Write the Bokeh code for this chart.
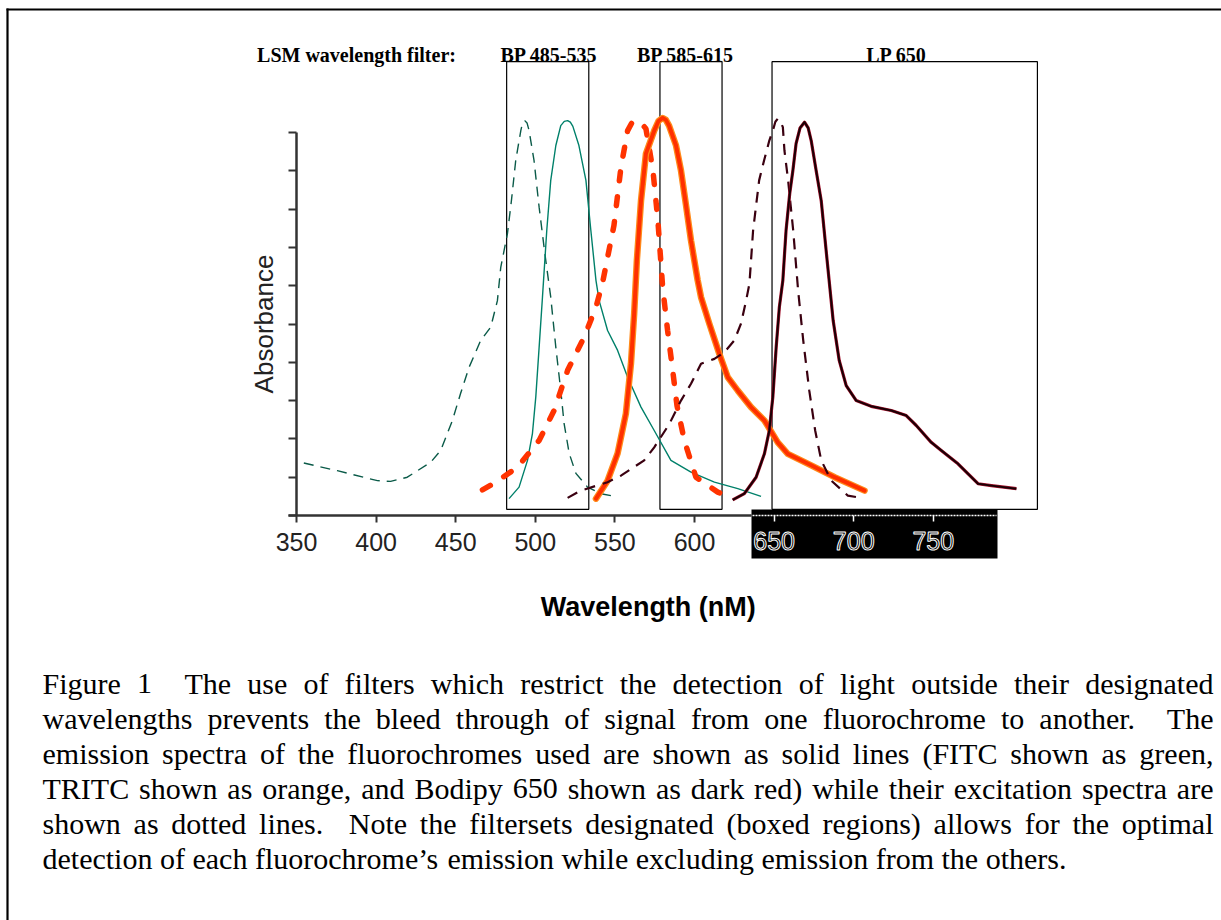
import numpy as np
from bokeh.plotting import figure
from bokeh.models import Range1d, LinearAxis, FixedTicker, ColumnDataSource
from bokeh.core.properties import value
from bokeh.embed import file_html
from bokeh.resources import INLINE

# ---------------- data ----------------
fitc_ex_nm = [354.6, 375.6, 400.8, 409.1, 419.6, 434.3, 440.6, 447.9, 453.1, 458.4, 465.7, 472.0,
              476.2, 478.3, 482.5, 485.0, 487.7, 490.9, 492.0, 493.4, 494.8, 496.1, 499.2, 502.4,
              506.0, 509.7, 512.9, 516.0, 518.1, 521.3, 525.5, 532.8, 541.2, 549.6]
fitc_ex_abs = [1.37, 1.17, 0.91, 0.89, 1.00, 1.39, 1.70, 2.48, 3.19, 3.87, 4.57, 4.92,
               5.61, 6.48, 7.36, 8.22, 9.27, 10.05, 10.25, 10.31, 10.25, 10.05, 9.27, 8.05,
               6.84, 5.70, 4.39, 3.26, 2.40, 1.62, 1.10, 0.74, 0.57, 0.50]

fitc_em_nm = [483.5, 489.8, 495.1, 498.2, 500.3, 502.4, 504.5, 507.2, 509.7, 512.9, 516.0, 518.2,
              520.3, 522.0, 523.6, 527.4, 531.8, 534.9, 538.1, 540.1, 545.4, 551.7, 558.0, 566.4,
              574.7, 585.2, 597.8, 612.5, 627.2, 641.8]
fitc_em_abs = [0.44, 0.74, 1.44, 2.14, 3.09, 4.39, 5.70, 7.44, 8.75, 9.66, 10.18, 10.29,
               10.31, 10.27, 10.16, 9.66, 8.75, 7.44, 6.14, 5.61, 4.83, 4.31, 3.61, 2.83,
               2.22, 1.44, 1.13, 0.87, 0.70, 0.50]

tritc_ex_nm = [466.8, 474.1, 488.8, 502.4, 511.8, 520.3, 530.7, 538.1, 542.3, 549.4, 553.8, 558.0,
               560.6, 563.2, 566.4, 569.5, 573.9, 577.0, 580.0, 583.1, 586.3, 589.0, 593.6, 600.9,
               614.6, 622.9]
tritc_ex_abs = [0.67, 0.84, 1.26, 1.96, 2.74, 3.79, 4.66, 5.44, 6.09, 7.57, 9.09, 10.05,
                10.25, 10.31, 10.25, 10.10, 9.01, 7.70, 5.96, 4.83, 3.79, 2.87, 1.96, 1.00,
                0.61, 0.48]

tritc_em_nm = [538.1, 545.4, 551.7, 556.9, 560.1, 562.1, 563.8, 566.4, 569.5, 574.7, 577.4, 580.0,
               582.0, 584.0, 588.4, 591.5, 594.7, 597.8, 602.0, 604.1, 609.3, 615.6, 620.9, 627.2,
               635.5, 643.9, 652.3, 658.6, 673.3, 688.0, 706.8]
tritc_em_abs = [0.44, 0.91, 1.62, 2.66, 3.97, 5.27, 6.66, 8.22, 9.45, 10.05, 10.30, 10.38,
                10.33, 10.18, 9.66, 9.01, 8.09, 7.18, 6.14, 5.70, 5.01, 4.22, 3.61, 3.26,
                2.83, 2.48, 1.91, 1.61, 1.31, 1.00, 0.65]

bodipy_ex_nm = [520.3, 528.6, 545.4, 553.8, 568.4, 574.7, 584.2, 591.5, 597.8, 604.1, 612.5, 618.7,
                625.0, 629.2, 632.4, 634.5, 636.8, 640.6, 643.7, 647.0, 649.2, 650.8, 652.3, 654.0,
                655.5, 656.5, 658.8, 662.0, 665.1, 668.3, 672.1, 675.8, 679.6, 685.9, 696.3, 704.7]
bodipy_ex_abs = [0.46, 0.65, 0.87, 1.04, 1.44, 1.78, 2.39, 3.00, 3.44, 3.96, 4.09, 4.26,
                 4.57, 5.01, 5.61, 6.05, 7.44, 8.75, 9.27, 9.79, 10.05, 10.28, 10.36, 10.28,
                 10.14, 9.53, 8.75, 7.44, 5.87, 4.57, 3.26, 2.22, 1.44, 0.91, 0.52, 0.46]

bodipy_em_nm = [624.0, 631.3, 638.7, 643.9, 647.0, 649.2, 651.3, 653.3, 655.5, 657.5, 659.8, 661.8,
                663.8, 666.3, 669.1, 671.4, 673.3, 676.4, 679.6, 683.3, 687.1, 690.9, 695.3, 701.6,
                711.0, 723.6, 733.0, 739.3, 748.7, 755.0, 765.5, 778.1, 786.5, 802.2]
bodipy_em_abs = [0.41, 0.57, 1.00, 1.61, 2.22, 3.09, 4.39, 5.44, 6.14, 7.44, 8.40, 9.01,
                 9.71, 10.12, 10.27, 10.12, 9.79, 9.01, 8.22, 6.66, 5.09, 4.05, 3.39, 3.00,
                 2.85, 2.74, 2.61, 2.35, 1.91, 1.70, 1.35, 0.83, 0.78, 0.70]

filter_names = ["BP 485-535", "BP 585-615", "LP 650"]
filter_start = [482.0, 578.3, 648.7]
filter_end = [533.6, 617.3, 815.4]
header_label = "LSM wavelength filter:"

x_ticks = [350, 400, 450, 500, 550, 600]
x_ticks_inset = [650, 700, 750]
y_ticks = [0, 1, 2, 3, 4, 5, 6, 7, 8, 9, 10]

x_title = "Wavelength (nM)"
y_title = "Absorbance"

caption_lines = [
    "Figure 1  The use of filters which restrict the detection of light outside their designated",
    "wavelengths prevents the bleed through of signal from one fluorochrome to another.  The",
    "emission spectra of the fluorochromes used are shown as solid lines (FITC shown as green,",
    "TRITC shown as orange, and Bodipy 650 shown as dark red) while their excitation spectra are",
    "shown as dotted lines.  Note the filtersets designated (boxed regions) allows for the optimal",
    "detection of each fluorochrome\u2019s emission while excluding emission from the others.",
]

# ---------------- layout ----------------
W, H = 1221, 920
PX_PER_NM = 1.592
PX_PER_UNIT = 38.3
X0, Y0 = 296.0, 515.0   # canvas position of (350 nm, 0)

xs = 350 - X0 / PX_PER_NM
xe = xs + W / PX_PER_NM
ye = Y0 / PX_PER_UNIT
ys = ye - H / PX_PER_UNIT

p = figure(width=W, height=H, output_backend="svg", toolbar_location=None,
           x_range=Range1d(xs, xe), y_range=Range1d(ys, ye),
           x_axis_location=None, y_axis_location=None, min_border=0,
           background_fill_color="white", border_fill_color="white",
           outline_line_color=None)
p.grid.visible = False
p.extra_x_ranges = {"px": Range1d(0, W)}
p.extra_y_ranges = {"px": Range1d(H, 0)}

# outer frame of the figure page
p.multi_line(xs=[[6, 1221], [7, 7]], ys=[[9, 9], [8, 920]], line_color="black",
             line_width=2.2, x_range_name="px", y_range_name="px")

# black inset behind the right part of the x axis
p.quad(left=[751], right=[997], top=[509], bottom=[558], fill_color="black",
       line_color=None, x_range_name="px", y_range_name="px")

# filter boxes
p.quad(left=filter_start, right=filter_end, bottom=0.16, top=11.85,
       fill_color=None, line_color="black", line_width=1.2)

# spectra
p.line(fitc_ex_nm, fitc_ex_abs, line_color="#0a5a48", line_width=1.4, line_dash="10 7")
p.line(fitc_em_nm, fitc_em_abs, line_color="#00806a", line_width=1.4, line_join="round")
p.line(tritc_ex_nm, tritc_ex_abs, line_color="#ff3300", line_width=5.5, line_dash="9 16",
       line_cap="round")
p.line(tritc_em_nm, tritc_em_abs, line_color="#ff8a1a", line_width=6.5, line_join="round", line_cap="round")
p.line(tritc_em_nm, tritc_em_abs, line_color="#ff3000", line_width=4, line_join="round", line_cap="round")
p.line(bodipy_ex_nm, bodipy_ex_abs, line_color="#3a0010", line_width=2.2, line_dash="11 8")
p.line(bodipy_em_nm, bodipy_em_abs, line_color="#a0102a", line_width=3.2, line_join="round")
p.line(bodipy_em_nm, bodipy_em_abs, line_color="#1a0005", line_width=2.0, line_join="round")

# axes
xax = LinearAxis(fixed_location=0, bounds=(345, 635.8), ticker=FixedTicker(ticks=x_ticks))
xax.axis_line_color = "#333333"
xax.axis_line_width = 2.5
xax.major_tick_line_color = "#333333"
xax.major_tick_line_width = 2
xax.major_tick_out = 7
xax.major_tick_in = 0
xax.minor_tick_out = 0
xax.minor_tick_in = 0
xax.major_label_text_font = "Liberation Sans"
xax.major_label_text_font_size = "25px"
xax.major_label_text_color = "#222222"
xax.major_label_standoff = 10
p.add_layout(xax, "below")

xax2 = LinearAxis(fixed_location=0, bounds=(636.5, 790), ticker=FixedTicker(ticks=x_ticks_inset))
xax2.axis_line_color = "white"
xax2.axis_line_width = 1.5
xax2.axis_line_dash = "2 1"
xax2.major_tick_line_color = "white"
xax2.major_tick_line_width = 1.5
xax2.major_tick_out = 6
xax2.major_tick_in = 0
xax2.minor_tick_out = 0
xax2.minor_tick_in = 0
xax2.major_label_text_font = "Liberation Sans"
xax2.major_label_text_font_size = "25px"
xax2.major_label_standoff = 10
try:
    xax2.major_label_text_color = "black"
    xax2.major_label_text_outline_color = "white"
except Exception:
    xax2.major_label_text_color = "white"
p.add_layout(xax2, "below")

yax = LinearAxis(fixed_location=350, bounds=(0, 10), ticker=FixedTicker(ticks=y_ticks),
                 major_label_overrides={t: "" for t in y_ticks})
yax.axis_line_color = "#333333"
yax.axis_line_width = 2.5
yax.major_tick_line_color = "#333333"
yax.major_tick_line_width = 2
yax.major_tick_out = 8
yax.major_tick_in = 0
yax.minor_tick_out = 0
yax.minor_tick_in = 0
p.add_layout(yax, "left")

# axis titles (placed at the middle of each axis' span)
p.text(x=[329.5], y=[5.0], text=[y_title], angle=np.pi / 2, text_align="center",
       text_baseline="middle", text_font=value("Liberation Sans"), text_font_size="26px",
       text_color="#222222")
p.text(x=[571.0], y=[-2.4], text=[x_title], text_align="center", text_baseline="middle",
       text_font=value("Liberation Sans"), text_font_style="bold", text_font_size="27px",
       text_color="black")

# header labels above the filter boxes
p.text(x=[356, 548.5, 685, 896], y=[54, 54, 54, 54], text=[header_label] + filter_names,
       x_range_name="px", y_range_name="px", text_align="center", text_baseline="alphabetic",
       text_font=value("Liberation Serif"), text_font_style="bold", text_font_size="20px",
       text_color="black")

# caption, justified word by word with Times metrics
TW = {' ': 250, '!': 333, '(': 333, ')': 333, ',': 250, '-': 333, '.': 250, ':': 278, '\u2019': 333,
      '0': 500, '1': 500, '2': 500, '3': 500, '4': 500, '5': 500, '6': 500, '7': 500, '8': 500, '9': 500,
      'A': 722, 'B': 667, 'C': 667, 'D': 722, 'E': 611, 'F': 556, 'G': 722, 'H': 722, 'I': 333,
      'J': 389, 'K': 722, 'L': 611, 'M': 889, 'N': 722, 'O': 722, 'P': 556, 'Q': 722, 'R': 667,
      'S': 556, 'T': 611, 'U': 722, 'V': 722, 'W': 944, 'X': 722, 'Y': 722, 'Z': 611,
      'a': 444, 'b': 500, 'c': 444, 'd': 500, 'e': 444, 'f': 333, 'g': 500, 'h': 500, 'i': 278,
      'j': 278, 'k': 500, 'l': 278, 'm': 778, 'n': 500, 'o': 500, 'p': 500, 'q': 500, 'r': 333,
      's': 389, 't': 278, 'u': 500, 'v': 500, 'w': 722, 'x': 500, 'y': 500, 'z': 444}
CAP_SIZE = 30
CAP_LEFT, CAP_RIGHT = 42.0, 1213.0
CAP_BASE, CAP_STEP = 683.0, 35.0


def tw(s):
    return sum(TW.get(c, 500) for c in s) * CAP_SIZE / 1000.0


cx, cy, ct = [], [], []
for i, line in enumerate(caption_lines):
    tokens = line.split(" ")
    n_sp = len(tokens) - 1
    sp = tw(" ")
    natural = sum(tw(t) for t in tokens) + n_sp * sp
    extra = 0.0
    if i < len(caption_lines) - 1 and n_sp > 0:
        extra = (CAP_RIGHT - CAP_LEFT - natural) / n_sp
    x = CAP_LEFT
    for k, t in enumerate(tokens):
        if t:
            cx.append(x)
            cy.append(CAP_BASE + i * CAP_STEP)
            ct.append(t)
            x += tw(t)
        if k < n_sp:
            x += sp + extra

p.text(x="x", y="y", text="t", source=ColumnDataSource(dict(x=cx, y=cy, t=ct)),
       x_range_name="px", y_range_name="px", text_align="left", text_baseline="alphabetic",
       text_font=value("Liberation Serif"), text_font_size=f"{CAP_SIZE}px", text_color="black")

open("out.html", "w").write(file_html(p, INLINE))
